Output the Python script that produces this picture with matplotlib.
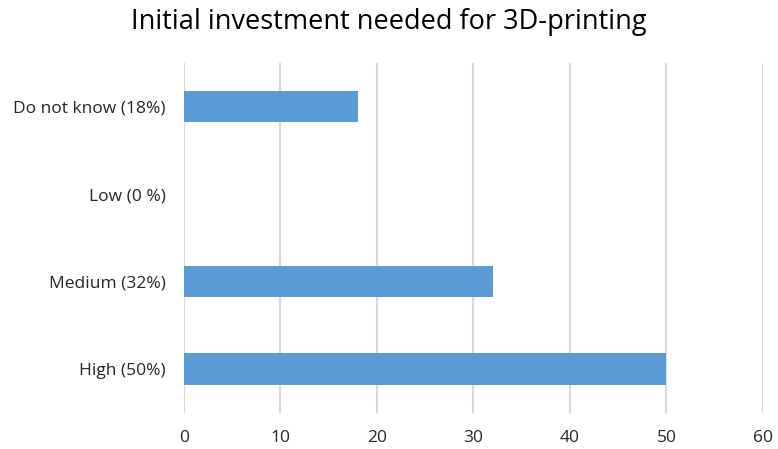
import matplotlib.pyplot as plt

categories = ["High (50%)", "Medium (32%)", "Low (0 %)", "Do not know (18%)"]
values = [50, 32, 0, 18]
x_ticks = [0, 10, 20, 30, 40, 50, 60]

plt.rcParams['font.family'] = ['Open Sans', 'DejaVu Sans']

fig = plt.figure(figsize=(7.78, 4.49), dpi=100)
ax = fig.add_axes([0.2365, 0.0802, 0.7442, 0.7795])

ax.barh(range(len(categories)), values, height=0.36, color='#5B9BD5', zorder=3)

ax.set_xlim(0, 60)
ax.set_ylim(-0.5, len(categories) - 0.5)
ax.set_xticks(x_ticks)
ax.set_yticks(range(len(categories)))
ax.set_yticklabels(categories)

ax.grid(axis='x', color='#D9D9D9', linewidth=1.5, zorder=0)
ax.grid(axis='y', visible=False)
for s in ax.spines.values():
    s.set_visible(False)

ax.tick_params(axis='both', length=0, labelsize=12.5, colors='#262626')
ax.tick_params(axis='x', pad=12)
ax.tick_params(axis='y', pad=13)

fig.text(0.5, 0.95, "Initial investment needed for 3D-printing",
         ha='center', va='center', fontsize=19.5, color='#000000')

fig.savefig("out.png", dpi=100)
